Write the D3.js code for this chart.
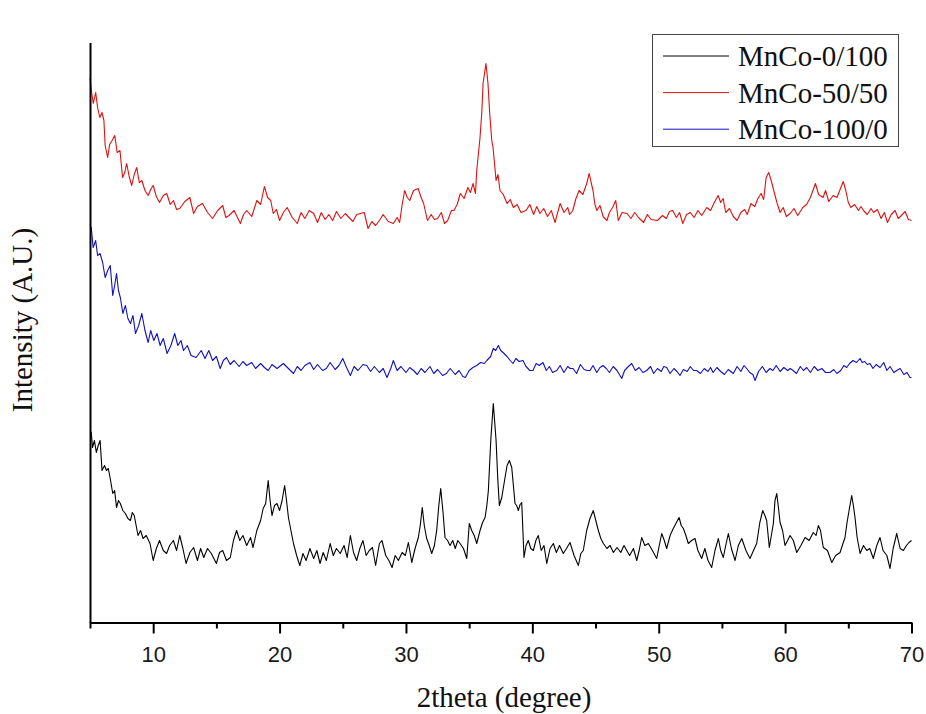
<!DOCTYPE html>
<html><head><meta charset="utf-8">
<script src="https://cdn.jsdelivr.net/npm/d3@7/dist/d3.min.js"></script>
<style>html,body{margin:0;padding:0;background:#fff;}svg{display:block;}</style>
</head><body>
<div id="chart"></div>
<script>
// ---- data (intensity in arbitrary units) ----
const seriesNames = ["MnCo-0/100", "MnCo-50/50", "MnCo-100/0"];
const xTicks = [10, 20, 30, 40, 50, 60, 70];
const xMinorTicks = [5, 15, 25, 35, 45, 55, 65];

const redAngle = [5.0,5.13,5.26,5.45,5.6,5.78,5.95,6.1,6.2,6.4,6.55,6.75,6.96,7.15,7.37,7.58,7.75,7.9,8.1,8.3,8.5,8.7,8.9,9.1,9.35,9.6,9.8,10.0,10.25,10.5,10.8,11.07,11.35,11.6,11.85,12.1,12.5,12.9,13.2,13.5,13.9,14.3,14.7,15.1,15.5,15.75,16.0,16.4,16.9,17.15,17.4,17.8,18.2,18.5,18.8,19.05,19.3,19.5,19.75,20.0,20.3,20.6,21.0,21.4,21.7,22.0,22.35,22.7,23.0,23.3,23.6,23.9,24.2,24.5,24.85,25.2,25.5,25.8,26.1,26.4,26.7,27.0,27.3,27.6,27.9,28.2,28.6,29.0,29.3,29.5,29.7,29.9,30.1,30.3,30.6,30.96,31.2,31.4,31.7,32.0,32.25,32.5,32.8,33.05,33.3,33.6,33.8,34.05,34.3,34.6,34.9,35.1,35.31,35.5,35.6,35.86,36.0,36.1,36.33,36.49,36.62,36.79,36.89,37.13,37.28,37.44,37.7,38.0,38.25,38.5,38.8,39.1,39.5,39.8,40.1,40.35,40.6,40.9,41.2,41.5,41.8,42.0,42.2,42.5,42.8,42.95,43.2,43.45,43.7,44.0,44.3,44.5,44.65,44.8,44.95,45.1,45.35,45.6,45.9,46.1,46.35,46.6,46.8,47.1,47.5,47.8,48.1,48.4,48.8,49.1,49.4,49.9,50.3,50.6,50.85,51.1,51.4,51.65,51.9,52.2,52.5,52.8,53.1,53.4,53.8,54.1,54.4,54.7,54.9,55.1,55.3,55.6,55.9,56.2,56.5,56.8,57.0,57.3,57.6,57.85,58.1,58.3,58.5,58.7,58.9,59.1,59.35,59.6,59.85,60.1,60.4,60.7,61.0,61.4,61.7,62.0,62.2,62.4,62.65,63.0,63.2,63.45,63.8,64.1,64.35,64.6,64.8,65.0,65.2,65.5,65.8,66.0,66.2,66.5,66.8,67.0,67.3,67.6,67.85,68.1,68.4,68.7,68.95,69.2,69.5,69.75,70.0];
const redI = [544,530,519,530,515,505,510,502,477,465,478,482,487,470,472,445,450,459,446,437,448,455,440,442,432,427,433,437,426,420,427,429,418,422,413,414,421,425,409,416,419,410,404,412,417,405,407,412,399,408,412,406,422,418,436,425,422,409,413,402,410,415,405,399,410,404,412,409,400,410,403,408,402,411,404,409,405,401,408,409,410,394,401,397,402,408,401,399,405,400,418,432,425,422,432,434,425,419,402,408,403,404,410,399,402,412,412,418,429,424,435,430,439,429,452,485,510,539,559,539,510,482,475,442,448,432,428,419,423,415,418,410,412,418,408,416,409,414,406,412,400,410,419,410,415,408,412,424,432,428,439,449,440,432,418,412,417,406,402,410,415,422,402,410,409,404,410,405,400,408,403,402,407,404,411,412,405,410,399,408,410,405,412,407,415,412,420,427,420,424,410,414,406,402,410,413,408,419,416,424,429,423,445,450,442,432,420,410,415,406,409,414,407,415,418,425,432,439,428,425,432,421,427,425,433,441,432,420,415,418,412,416,412,408,414,410,413,404,410,400,408,412,404,407,411,403,402];

const blueAngle = [5.0,5.1,5.25,5.45,5.6,5.8,6.0,6.2,6.4,6.6,6.8,6.95,7.1,7.25,7.4,7.6,7.8,8.0,8.2,8.4,8.6,8.85,9.1,9.35,9.6,9.8,10.05,10.3,10.55,10.8,11.1,11.4,11.7,11.95,12.2,12.4,12.7,13.0,13.4,13.8,14.1,14.4,14.7,15.0,15.3,15.55,15.8,16.1,16.4,16.8,17.1,17.4,17.8,18.1,18.5,18.8,19.1,19.4,19.8,20.3,20.7,21.1,21.4,21.7,22.0,22.4,22.7,23.0,23.4,23.7,24.0,24.4,24.7,25.0,25.3,25.6,25.9,26.2,26.6,26.9,27.2,27.5,27.9,28.2,28.5,28.8,29.0,29.3,29.6,30.0,30.3,30.6,30.9,31.2,31.5,31.9,32.2,32.5,32.9,33.2,33.5,33.9,34.2,34.5,34.7,35.0,35.3,35.6,35.9,36.2,36.4,36.7,36.91,37.1,37.31,37.5,37.68,38.0,38.25,38.47,38.7,38.95,39.26,39.5,39.8,40.05,40.3,40.55,40.84,41.1,41.35,41.6,41.93,42.2,42.5,42.8,43.0,43.22,43.5,43.8,44.1,44.35,44.56,44.8,45.1,45.35,45.59,45.85,46.1,46.4,46.7,47.07,47.3,47.6,47.86,48.15,48.45,48.75,49.05,49.35,49.6,49.9,50.2,50.4,50.63,50.9,51.2,51.45,51.68,51.95,52.25,52.5,52.75,53.0,53.3,53.6,53.9,54.1,54.3,54.6,54.9,55.2,55.5,55.9,56.2,56.5,56.75,56.96,57.2,57.45,57.62,57.9,58.2,58.5,58.8,59.04,59.3,59.6,59.9,60.2,60.4,60.63,60.9,61.2,61.45,61.71,62.0,62.3,62.6,62.9,63.2,63.55,63.85,64.1,64.4,64.65,64.87,65.1,65.37,65.65,65.93,66.1,66.3,66.5,66.72,66.95,67.2,67.51,67.8,68.05,68.3,68.6,68.83,69.1,69.4,69.65,69.88,70.0];
const blueI = [397,395,375,382,367,369,360,345,352,357,327,337,349,332,325,309,317,304,299,307,289,297,309,292,280,292,282,289,277,284,269,277,289,277,282,272,277,267,265,272,264,272,262,266,254,262,265,258,262,256,261,257,260,254,259,255,252,258,254,259,254,249,256,252,257,260,253,258,252,254,260,253,257,264,255,247,256,252,258,257,251,256,250,254,245,254,262,252,256,250,255,252,248,254,250,256,249,253,247,249,254,248,252,246,245,252,255,257,260,259,262,266,274,272,277,272,270,266,262,259,264,261,262,256,252,252,259,257,260,252,256,250,252,257,250,256,254,254,249,258,253,252,252,257,250,255,257,254,250,256,252,244,252,256,259,252,255,250,252,256,249,254,251,256,255,249,254,251,247,253,251,256,252,252,249,254,251,255,250,255,251,248,253,249,256,251,257,254,250,248,242,251,256,250,254,252,257,251,255,252,254,252,249,256,252,255,250,256,252,254,250,250,253,249,252,257,255,259,262,260,264,260,261,258,259,254,258,255,260,252,256,250,252,254,248,250,245,245];

const blackAngle = [5.0,5.1,5.2,5.35,5.5,5.65,5.8,5.95,6.15,6.3,6.45,6.6,6.8,6.95,7.1,7.25,7.4,7.6,7.8,8.0,8.2,8.35,8.5,8.65,8.8,9.0,9.2,9.45,9.75,10.0,10.25,10.5,10.8,11.06,11.3,11.6,11.85,12.1,12.35,12.6,12.9,13.2,13.5,13.75,14.0,14.3,14.6,15.0,15.25,15.5,15.8,16.1,16.35,16.6,16.85,17.1,17.4,17.7,17.9,18.2,18.5,18.7,18.9,19.1,19.25,19.4,19.6,19.8,20.0,20.2,20.4,20.55,20.7,20.9,21.1,21.35,21.6,21.85,22.1,22.4,22.7,22.95,23.2,23.45,23.7,24.0,24.25,24.5,24.8,25.1,25.35,25.6,25.85,26.1,26.35,26.6,26.85,27.1,27.35,27.6,27.9,28.1,28.4,28.65,28.9,29.15,29.4,29.7,29.95,30.19,30.46,30.72,30.98,31.13,31.29,31.45,31.64,31.84,32.04,32.25,32.43,32.6,32.75,32.92,33.09,33.29,33.49,33.7,33.9,34.1,34.28,34.55,34.81,35.01,35.2,35.4,35.6,35.86,36.06,36.26,36.4,36.52,36.71,36.91,37.13,37.27,37.39,37.58,37.84,38.0,38.18,38.37,38.63,38.76,38.89,39.03,39.16,39.34,39.5,39.68,39.88,40.08,40.28,40.47,40.7,40.92,41.14,41.4,41.66,41.9,42.15,42.45,42.7,42.98,43.3,43.64,43.84,44.03,44.3,44.56,44.82,45.02,45.22,45.42,45.62,45.9,46.15,46.41,46.7,47.0,47.25,47.47,47.7,48.0,48.26,48.45,48.65,48.9,49.18,49.5,49.84,50.04,50.24,50.44,50.63,50.9,51.15,51.4,51.61,51.78,51.95,52.15,52.34,52.6,52.87,53.1,53.4,53.65,53.9,54.19,54.45,54.72,54.9,55.11,55.3,55.51,55.75,56.04,56.3,56.57,56.9,57.22,57.5,57.75,58.0,58.23,58.4,58.54,58.75,59.07,59.2,59.34,59.47,59.6,59.8,59.99,60.2,60.39,60.65,60.92,61.25,61.58,61.9,62.23,62.45,62.63,62.8,63.02,63.35,63.69,64.0,64.35,64.55,64.74,64.9,65.06,65.27,65.4,65.53,65.7,65.93,66.2,66.46,66.7,66.98,67.25,67.51,67.75,68.05,68.3,68.55,68.83,69.1,69.36,69.6,69.8,70.0];
const blackI = [192,190,175,182,170,177,182,152,157,152,154,144,129,132,115,122,119,112,109,104,102,110,107,97,87,92,84,87,79,62,74,82,72,69,77,82,72,87,74,59,70,75,62,74,65,74,69,59,70,72,62,65,82,92,82,87,77,85,75,92,102,114,119,142,122,107,117,119,112,122,137,122,105,92,79,67,57,69,62,74,64,72,59,70,62,79,67,74,69,77,65,87,70,62,74,82,67,72,75,57,79,82,67,62,55,67,62,70,67,80,60,74,85,97,115,97,84,77,69,77,92,117,134,112,85,82,77,82,74,82,79,74,64,99,92,87,79,92,100,105,117,132,182,219,182,142,117,125,145,157,162,155,119,117,112,118,120,65,77,82,74,72,82,87,72,77,59,74,79,70,77,69,74,80,67,57,69,72,92,104,112,102,92,84,79,74,77,70,75,70,77,72,67,74,62,72,85,77,79,72,64,77,89,82,74,87,94,100,105,97,94,87,79,82,84,72,64,74,62,55,72,84,72,65,77,89,74,62,77,84,72,64,72,79,100,112,107,102,75,99,122,129,115,100,92,77,82,87,82,70,77,85,82,90,87,97,92,75,72,60,67,70,78,85,100,112,127,117,105,85,69,77,72,74,64,77,85,72,67,54,74,89,74,72,77,80,82];

const colors = ["#000000", "#e01010", "#1010c0"];

// ---- chart ----
const W = 926, H = 714;
const svg = d3.select("#chart").append("svg").attr("width", W).attr("height", H);

const x = d3.scaleLinear().domain([5, 70]).range([90, 911.5]);
const y = d3.scaleLinear().domain([0, 580]).range([622.5, 42.5]);

const series = [
  {angle: blackAngle, val: blackI},
  {angle: redAngle, val: redI},
  {angle: blueAngle, val: blueI}
];

const line = d3.line().x(d => x(d[0])).y(d => y(d[1]));
series.forEach((s, i) => {
  svg.append("path")
    .datum(s.angle.map((a, k) => [a, s.val[k]]))
    .attr("d", line)
    .attr("fill", "none")
    .attr("stroke", colors[i])
    .attr("stroke-width", 1.1)
    .attr("stroke-linejoin", "round");
});

// bottom axis
const xAxis = d3.axisBottom(x).tickValues(xTicks).tickSize(11).tickSizeOuter(0).tickFormat(d3.format("d"));
const gx = svg.append("g").attr("transform", `translate(0,${y(0)})`).call(xAxis);
gx.select(".domain").attr("stroke", "#000").attr("stroke-width", 2);
gx.selectAll(".tick line").attr("stroke", "#000").attr("stroke-width", 2);
gx.selectAll(".tick text").attr("font-family", "'Liberation Sans', Arial, sans-serif")
  .attr("font-size", 22).attr("fill", "#1a1a1a").attr("dy", null).attr("y", 39);

const xAxisMinor = d3.axisBottom(x).tickValues(xMinorTicks).tickSize(6).tickSizeOuter(0).tickFormat("");
const gxm = svg.append("g").attr("transform", `translate(0,${y(0)})`).call(xAxisMinor);
gxm.select(".domain").remove();
gxm.selectAll(".tick line").attr("stroke", "#000").attr("stroke-width", 2);

// left axis (no ticks)
const yAxis = d3.axisLeft(y).tickValues([]).tickSizeOuter(0);
const gy = svg.append("g").attr("transform", `translate(${x(5)},0)`).call(yAxis);
gy.select(".domain").attr("stroke", "#000").attr("stroke-width", 2);

// axis titles
svg.append("text").attr("x", 504).attr("y", 707).attr("text-anchor", "middle")
  .attr("font-family", "'Liberation Serif', 'Times New Roman', serif").attr("font-size", 29)
  .attr("fill", "#111").text("2theta (degree)");
svg.append("text").attr("transform", "translate(32,320) rotate(-90)").attr("text-anchor", "middle")
  .attr("font-family", "'Liberation Serif', 'Times New Roman', serif").attr("font-size", 29)
  .attr("fill", "#111").text("Intensity (A.U.)");

// legend
const lg = svg.append("g");
lg.append("rect").attr("x", 652.5).attr("y", 34.5).attr("width", 246).attr("height", 112)
  .attr("fill", "#fff").attr("stroke", "#444").attr("stroke-width", 1);
seriesNames.forEach((name, i) => {
  const by = 66 + i * 36.6;
  lg.append("line").attr("x1", 663).attr("x2", 729).attr("y1", by - 10).attr("y2", by - 10)
    .attr("stroke", colors[i]).attr("stroke-width", 1);
  lg.append("text").attr("x", 738).attr("y", by)
    .attr("font-family", "'Liberation Serif', 'Times New Roman', serif").attr("font-size", 29)
    .attr("fill", "#111").text(name);
});
</script>
</body></html>
